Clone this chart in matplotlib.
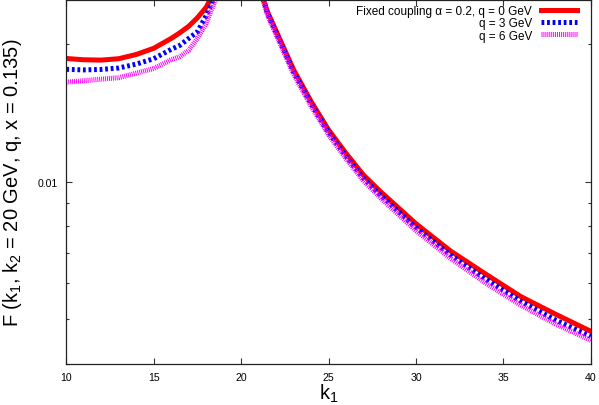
import numpy as np
import matplotlib
matplotlib.use('Agg')
import matplotlib.pyplot as plt
import matplotlib.ticker as ticker

plt.rcParams['font.family'] = ['Liberation Sans', 'DejaVu Sans']
plt.rcParams['mathtext.fontset'] = 'custom'
plt.rcParams['mathtext.rm'] = 'Liberation Sans'
plt.rcParams['mathtext.it'] = 'Liberation Sans:italic'
plt.rcParams['lines.scale_dashes'] = False

# k1 < k2 branch
k_left = [10, 11, 12, 13, 14, 15, 16, 16.5, 17, 17.5, 18, 18.5, 19]
red_left = [0.01862, 0.0185, 0.01847, 0.0186, 0.0190, 0.0196, 0.0206, 0.0212,
            0.0219, 0.02286, 0.0241, 0.0262, 0.030]
blue_left = [0.01763, 0.01758, 0.01762, 0.01775, 0.0181, 0.0186, 0.0195, 0.0199,
             0.0206, 0.0213, 0.0231, 0.0255, 0.029]
mag_left = [0.01653, 0.01665, 0.01678, 0.0169, 0.0173, 0.0177, 0.0185, 0.0188,
            0.0194, 0.0206, 0.0222, 0.0249, 0.029]

# k1 > k2 branch
k_right = [21.0, 21.5, 22, 23, 24, 25, 26, 27, 28, 30, 32, 34, 36, 38, 40]
red_right = [0.027, 0.0236, 0.0214, 0.0176, 0.0150, 0.0130, 0.01155, 0.01035,
             0.0095, 0.0081, 0.00705, 0.00628, 0.00561, 0.00513, 0.00471]
blue_right = [0.0272, 0.0234, 0.0212, 0.0174, 0.01482, 0.01283, 0.01138, 0.01018,
              0.00933, 0.00795, 0.00691, 0.00612, 0.00548, 0.00498, 0.00459]
mag_right = [0.0269, 0.0232, 0.0210, 0.0172, 0.01465, 0.01268, 0.01124, 0.01005,
             0.00920, 0.00782, 0.00679, 0.00600, 0.00537, 0.00488, 0.00450]

labels = ['Fixed coupling \u03b1 = 0.2, q = 0 GeV', 'q = 3 GeV', 'q = 6 GeV']

fig = plt.figure(figsize=(5.99, 4.06), dpi=100)
ax = fig.add_axes([0.1107, 0.1017, 0.8755, 0.8958])

series = [(red_left, red_right, '#ff0000', 'solid'),
          (blue_left, blue_right, '#0000ff', (0, (2.0, 2.0))),
          (mag_left, mag_right, '#ff00ff', (0, (0.7, 0.7)))]
for (yl, yr, c, ls), lab in zip(series, labels):
    ax.plot(k_left, yl, color=c, lw=3.6, ls=ls, label=lab)
    ax.plot(k_right, yr, color=c, lw=3.6, ls=ls)

ax.set_yscale('log')
ax.set_xlim(10, 40)
ax.set_ylim(0.004, 0.025)
ax.set_xticks([10, 15, 20, 25, 30, 35, 40])
ax.yaxis.set_major_locator(ticker.LogLocator(base=10))
ax.yaxis.set_minor_locator(ticker.LogLocator(base=10, subs=np.arange(2, 10)))
ax.yaxis.set_major_formatter(ticker.FormatStrFormatter('%g'))
ax.yaxis.set_minor_formatter(ticker.NullFormatter())

ax.tick_params(which='both', direction='in', top=True, right=True,
               labelsize=7.6, width=0.8, color='#333333')
ax.tick_params(which='major', length=4, pad=6)
ax.tick_params(which='minor', length=2.2)
for s in ax.spines.values():
    s.set_linewidth(0.9)
    s.set_color('#222222')

ax.set_xlabel('k$_1$', fontsize=14.5)
ax.set_ylabel('F (k$_1$, k$_2$ = 20 GeV, q, x = 0.135)', fontsize=14.5)
ax.xaxis.set_label_coords(0.5, -0.05)
ax.yaxis.set_label_coords(-0.08, 0.5)

ax.legend(loc='upper right', bbox_to_anchor=(0.974, 0.986), frameon=False,
          markerfirst=False, fontsize=8.5, handlelength=3.1, handletextpad=0.7,
          labelspacing=0.02, borderaxespad=0, borderpad=0)

fig.savefig('out.png', dpi=100)
